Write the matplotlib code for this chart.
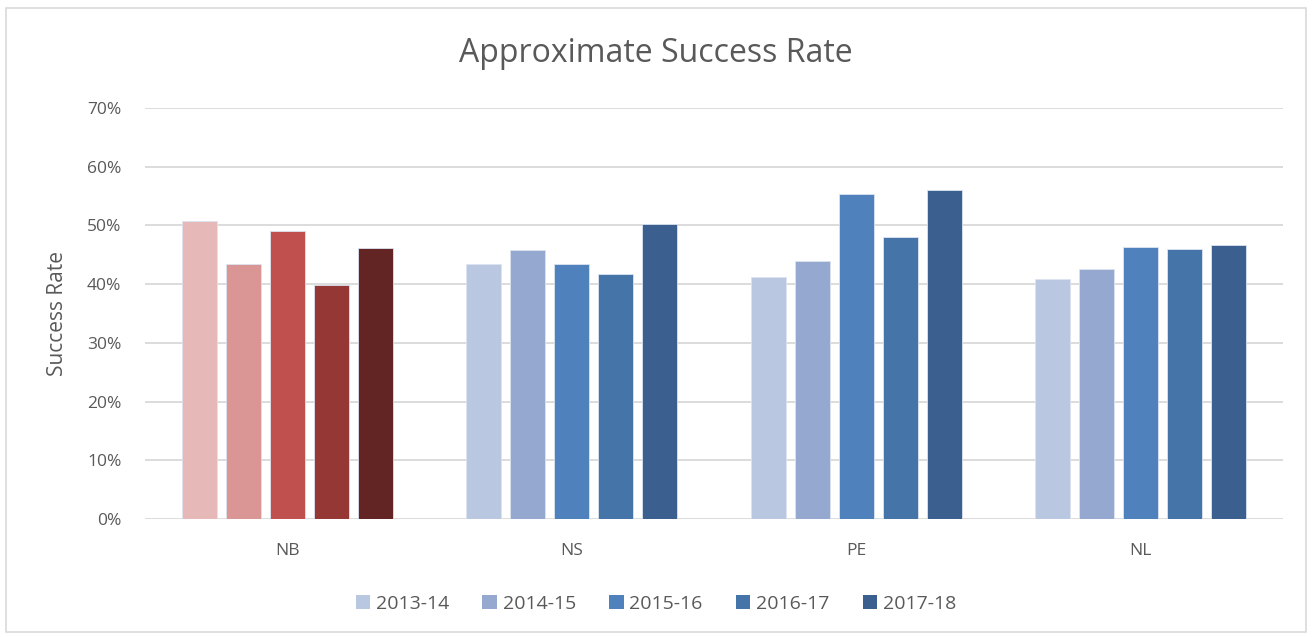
import numpy as np
import matplotlib.pyplot as plt
from matplotlib.patches import Rectangle
from matplotlib.ticker import PercentFormatter

provinces = ['NB', 'NS', 'PE', 'NL']
years = ['2013-14', '2014-15', '2015-16', '2016-17', '2017-18']
rates = {
    'NB': [0.507, 0.434, 0.491, 0.398, 0.461],
    'NS': [0.435, 0.459, 0.434, 0.418, 0.502],
    'PE': [0.412, 0.440, 0.554, 0.480, 0.560],
    'NL': [0.409, 0.426, 0.464, 0.460, 0.467],
}
blues = ['#BAC7E1', '#95A9D0', '#4F81BD', '#4574A8', '#3B5F8E']
reds = ['#E6B9B8', '#D99694', '#C0504D', '#953735', '#632523']

plt.rcParams['font.family'] = ['Open Sans', 'DejaVu Sans']
fig = plt.figure(figsize=(13.12, 6.37), dpi=100)
ax = fig.add_axes([145 / 1312, 1 - 519 / 637, 1138 / 1312, 411 / 637])

x = np.arange(len(provinces))
step = 0.1547
width = 0.123
for j, yr in enumerate(years):
    vals = [rates[p][j] for p in provinces]
    cols = [reds[j] if p == 'NB' else blues[j] for p in provinces]
    ax.bar(x + (j - 2) * step, vals, width, color=cols, edgecolor='#DCE3F0',
           linewidth=0.6, zorder=3)
    # legend proxy in blue
    ax.bar([0], [0], 0, color=blues[j], label=yr)

ax.set_xlim(-0.5, 3.5)
ax.set_ylim(0, 0.7)
ax.set_yticks(np.arange(0, 0.71, 0.1))
ax.yaxis.set_major_formatter(PercentFormatter(1.0, decimals=0))
ax.set_xticks(x)
ax.set_xticklabels(provinces)
ax.grid(axis='y', color='#D9D9D9', linewidth=1.3, zorder=0)
for s in ax.spines.values():
    s.set_visible(False)
ax.tick_params(length=0, labelsize=12.5, colors='#595959')
ax.tick_params(axis='y', pad=17)
ax.tick_params(axis='x', pad=17)
ax.set_ylabel('Success Rate', fontsize=15, color='#595959', labelpad=14)

fig.text(0.5, 1 - 53 / 637, 'Approximate Success Rate', ha='center', va='center',
         fontsize=23, color='#595959')

fig.legend(loc='center', bbox_to_anchor=(0.5, 1 - 604 / 637), ncol=5, frameon=False,
           fontsize=14, handlelength=0.75, handleheight=0.75, handletextpad=0.3,
           columnspacing=1.7, labelcolor='#595959')

fig.patches.append(Rectangle((6 / 1312, 5 / 637), 1300 / 1312, 624 / 637,
                             transform=fig.transFigure, fill=False,
                             edgecolor='#D9D9D9', linewidth=1.2))

fig.savefig('out.png', dpi=100)
